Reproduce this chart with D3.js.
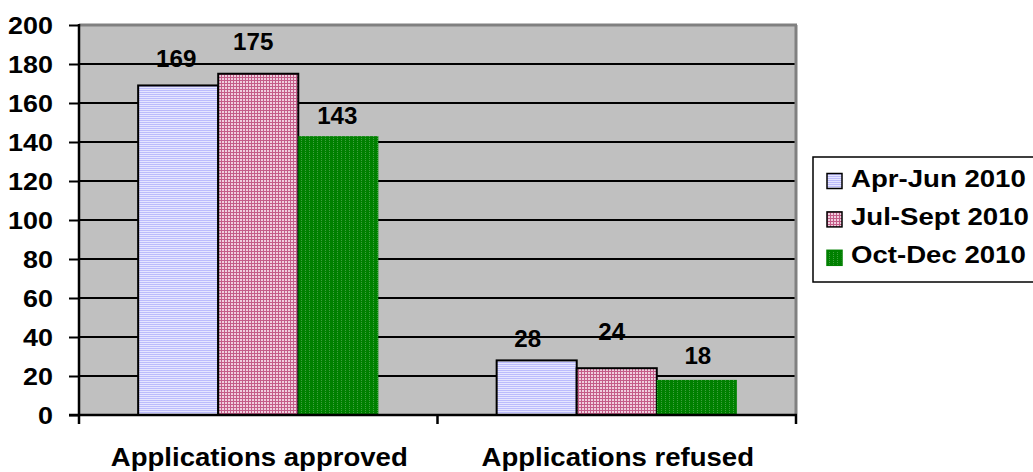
<!DOCTYPE html>
<html><head><meta charset="utf-8">
<script src="https://cdn.jsdelivr.net/npm/d3@7"></script>
<style>body{margin:0;background:#fff}svg{display:block;font-family:Arial,"Liberation Sans",sans-serif;font-weight:bold}</style>
</head><body><svg id="c" width="1033" height="472"></svg>
<script>
const categories = ["Applications approved", "Applications refused"];
const seriesNames = ["Apr-Jun 2010", "Jul-Sept 2010", "Oct-Dec 2010"];
const aprJun = [169, 28];
const julSep = [175, 24];
const octDec = [143, 18];
const yTicks = [0, 20, 40, 60, 80, 100, 120, 140, 160, 180, 200];

// layout only: label nudges [dx, gap above bar] per series per category
const labelNudge = [[[-2,18],[-9,13]], [[-5,24],[-5,28]], [[-1,12],[1,16]]];

const series = [aprJun, julSep, octDec];
const svg = d3.select("#c");
const L = 79, R = 796, T = 25, B = 415;
const defs = svg.append("defs");
const p1 = defs.append("pattern").attr("id","p0").attr("width",4).attr("height",2).attr("patternUnits","userSpaceOnUse");
p1.append("rect").attr("width",4).attr("height",2).attr("fill","#bcbcfc");
p1.append("rect").attr("y",1).attr("width",4).attr("height",1).attr("fill","#e6e6ff");
const p2 = defs.append("pattern").attr("id","p1").attr("width",3).attr("height",3).attr("patternUnits","userSpaceOnUse");
p2.append("rect").attr("width",3).attr("height",3).attr("fill","#f0cede");
p2.append("rect").attr("y",2).attr("width",3).attr("height",1).attr("fill","#c45c88");
p2.append("rect").attr("x",2).attr("width",1).attr("height",3).attr("fill","#c45c88");
const p3 = defs.append("pattern").attr("id","p2").attr("width",4).attr("height",4).attr("patternUnits","userSpaceOnUse");
p3.append("rect").attr("width",4).attr("height",4).attr("fill","#008000");
p3.append("rect").attr("x",1).attr("width",1).attr("height",1).attr("fill","#40a040");
p3.append("rect").attr("x",1).attr("y",2).attr("width",1).attr("height",1).attr("fill","#40a040");
const fills = ["url(#p0)","url(#p1)","url(#p2)"];
const strokes = ["#000","#000","none"];

function stext(parent, x, y, str, size, sx, anchor){
  return parent.append("text").attr("transform",`translate(${x},${y}) scale(${sx},1)`)
    .attr("text-anchor",anchor).attr("font-size",size).attr("font-weight","bold")
    .attr("font-family","Arial,'Liberation Sans',sans-serif").attr("fill","#000").text(str);
}

const y = d3.scaleLinear().domain([0,200]).range([B,T]);
const x0 = d3.scaleBand().domain(categories).range([L,R]).paddingInner(0.33).paddingOuter(0.165);
const x1 = d3.scaleBand().domain(d3.range(series.length)).range([0,x0.bandwidth()]);

svg.append("rect").attr("x",L).attr("y",T).attr("width",R-L).attr("height",B-T).attr("fill","#c0c0c0");
svg.append("g").selectAll("line").data(yTicks.filter(d=>d>0 && d<200)).join("line")
  .attr("x1",L).attr("x2",R).attr("y1",d=>Math.round(y(d))).attr("y2",d=>Math.round(y(d)))
  .attr("stroke","#000").attr("stroke-width",2);
svg.append("line").attr("x1",L).attr("x2",R+1).attr("y1",T).attr("y2",T).attr("stroke","#808080").attr("stroke-width",3);
svg.append("line").attr("x1",R).attr("x2",R).attr("y1",T).attr("y2",B).attr("stroke","#808080").attr("stroke-width",3);

const g = svg.append("g");
categories.forEach((c,ci)=>{
  series.forEach((s,si)=>{
    const bx = x0(c)+x1(si), bw = x1.bandwidth();
    g.append("rect").attr("x",bx).attr("y",y(s[ci])).attr("width",bw).attr("height",B-y(s[ci]))
      .attr("fill",fills[si]).attr("stroke",strokes[si]).attr("stroke-width",2);
  });
});
categories.forEach((c,ci)=>{
  series.forEach((s,si)=>{
    const bx = x0(c)+x1(si), bw = x1.bandwidth();
    const [dx, gap] = labelNudge[si][ci];
    stext(g, bx+bw/2+dx, y(s[ci])-gap, s[ci], 23, 1.05, "middle");
  });
});

// y axis
const ya = svg.append("g").attr("transform",`translate(${L},0)`)
  .call(d3.axisLeft(y).tickValues(yTicks).tickSize(10).tickFormat(""));
ya.selectAll("line").attr("stroke","#000").attr("stroke-width",2);
ya.select(".domain").attr("stroke","#000").attr("stroke-width",2.5).attr("d",`M0,${T-1}V${B+1}`);
yTicks.forEach(t=> stext(svg, 53, y(t)+8.5, t, 23, 1.17, "end"));

// x axis
const xa = svg.append("g").attr("transform",`translate(0,${B})`);
xa.append("line").attr("x1",L-10).attr("x2",R+1).attr("y1",0).attr("y2",0).attr("stroke","#000").attr("stroke-width",2.5);
const bounds = [L, (L+R)/2, R];
xa.selectAll(".t").data(bounds).join("line").attr("x1",d=>d).attr("x2",d=>d).attr("y1",0).attr("y2",9).attr("stroke","#000").attr("stroke-width",2.5);
categories.forEach(c=> stext(xa, x0(c)+x0.bandwidth()/2+1, 51, c, 26, 1.06, "middle"));

// legend
const lg = svg.append("g");
lg.append("rect").attr("x",813).attr("y",157).attr("width",230).attr("height",125).attr("fill","#fff").attr("stroke","#000").attr("stroke-width",1.5);
seriesNames.forEach((n,i)=>{
  const base = 186.5 + i*38.4;
  lg.append("rect").attr("x",827).attr("y",base-13).attr("width",15).attr("height",15)
    .attr("fill",fills[i]).attr("stroke",i===2?"#008000":"#000").attr("stroke-width",1.5);
  stext(lg, 851, base, n, 23, 1.2, "start");
});
</script></body></html>
